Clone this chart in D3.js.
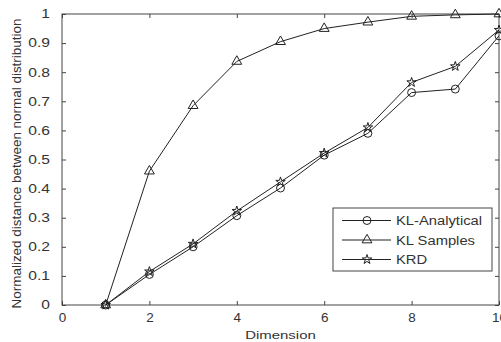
<!DOCTYPE html>
<html>
<head>
<meta charset="utf-8">
<script src="https://cdn.jsdelivr.net/npm/d3@7"></script>
<style>
  body { margin: 0; background: #fff; }
  svg { display: block; font-family: Arial, "Liberation Sans", sans-serif; }
</style>
</head>
<body>
<svg id="chart" width="501" height="342"></svg>
<script>
const dims = [1, 2, 3, 4, 5, 6, 7, 8, 9, 10];
const klAnalytical = [0, 0.105, 0.20, 0.307, 0.402, 0.515, 0.59, 0.73, 0.742, 0.925];
const klSamples = [0, 0.46, 0.685, 0.837, 0.905, 0.95, 0.972, 0.992, 0.997, 1.0];
const krd = [0, 0.115, 0.21, 0.323, 0.423, 0.522, 0.61, 0.765, 0.82, 0.945];
const xTicks = [0, 2, 4, 6, 8, 10];
const yTicks = [0, 0.1, 0.2, 0.3, 0.4, 0.5, 0.6, 0.7, 0.8, 0.9, 1];
const seriesNames = ["KL-Analytical", "KL Samples", "KRD"];

const svg = d3.select("#chart");
const x = d3.scaleLinear().domain([0, 10]).range([62, 499]);
const y = d3.scaleLinear().domain([0, 1]).range([305, 14]);
const ink = "#222";
const textCol = "#333";

// the original figure's text is stretched sideways a bit
function stretch(sel, k) {
  sel.each(function () {
    const len = this.getComputedTextLength();
    d3.select(this).attr("textLength", len * k).attr("lengthAdjust", "spacingAndGlyphs");
  });
}

// frame
svg.append("rect")
  .attr("x", x(0)).attr("y", y(1))
  .attr("width", x(10) - x(0)).attr("height", y(0) - y(1))
  .attr("fill", "none").attr("stroke", "#444").attr("stroke-width", 1);

// axes (inward ticks, matlab style)
const fmtY = d => d === 0 ? "0" : d === 1 ? "1" : d3.format(".1f")(d);
const xAx = svg.append("g").attr("transform", `translate(0,${y(0)})`)
  .call(d3.axisBottom(x).tickValues(xTicks).tickSizeInner(-4).tickSizeOuter(0).tickPadding(7))
  .call(g => g.select(".domain").remove());
svg.append("g").attr("transform", `translate(0,${y(1)})`)
  .call(d3.axisTop(x).tickValues(xTicks).tickSizeInner(-4).tickSizeOuter(0).tickFormat(""))
  .call(g => g.select(".domain").remove());
const yAx = svg.append("g").attr("transform", `translate(${x(0)},0)`)
  .call(d3.axisLeft(y).tickValues(yTicks).tickFormat(fmtY).tickSizeInner(-4).tickSizeOuter(0).tickPadding(12))
  .call(g => g.select(".domain").remove());
svg.append("g").attr("transform", `translate(${x(10)},0)`)
  .call(d3.axisRight(y).tickValues(yTicks).tickSizeInner(-4).tickSizeOuter(0).tickFormat(""))
  .call(g => g.select(".domain").remove());

svg.selectAll(".tick line").attr("stroke", "#444");
svg.selectAll(".tick text").attr("fill", textCol)
  .style("font-family", "Arial, 'Liberation Sans', sans-serif");
xAx.selectAll(".tick text").style("font-size", "13.5px");
yAx.selectAll(".tick text").style("font-size", "12px").call(stretch, 1.3);

// axis labels
svg.append("text")
  .attr("x", (x(0) + x(10)) / 2).attr("y", 339)
  .attr("text-anchor", "middle").attr("fill", textCol)
  .style("font-size", "11.5px").text("Dimension")
  .call(stretch, 1.3);
svg.append("text")
  .attr("transform", `translate(21,${(y(0) + y(1)) / 2 + 4}) rotate(-90)`)
  .attr("text-anchor", "middle").attr("fill", textCol)
  .style("font-size", "12px").text("Normalized distance between normal distribution")
  .call(stretch, 1.12);

// series
const seriesData = [klAnalytical, klSamples, krd];
const symbols = [d3.symbolCircle, d3.symbolTriangle, d3.symbolStar];
const sizes = [50, 42, 28];
const line = d3.line().x((d, i) => x(dims[i])).y(d => y(d));

seriesData.forEach((vals, s) => {
  svg.append("path").datum(vals)
    .attr("d", line).attr("fill", "none")
    .attr("stroke", ink).attr("stroke-width", 1);
  svg.selectAll(null).data(vals).enter().append("path")
    .attr("transform", (d, i) => `translate(${x(dims[i])},${y(d)})`)
    .attr("d", d3.symbol().type(symbols[s]).size(sizes[s]))
    .attr("fill", "none").attr("stroke", ink).attr("stroke-width", 1);
});

// legend
const lg = svg.append("g");
lg.append("rect").attr("x", 333).attr("y", 208).attr("width", 159).attr("height", 63)
  .attr("fill", "#fff").attr("stroke", "#444").attr("stroke-width", 1);
seriesNames.forEach((name, s) => {
  const ly = 220.5 + s * 19.5;
  lg.append("line").attr("x1", 342).attr("x2", 391).attr("y1", ly).attr("y2", ly)
    .attr("stroke", ink).attr("stroke-width", 1);
  lg.append("path").attr("transform", `translate(367,${ly})`)
    .attr("d", d3.symbol().type(symbols[s]).size(sizes[s]))
    .attr("fill", "none").attr("stroke", ink);
  lg.append("text").attr("x", 396).attr("y", ly + 4.5).attr("fill", textCol)
    .style("font-size", "12.5px").text(name)
    .call(stretch, 1.18);
});
</script>
</body>
</html>
